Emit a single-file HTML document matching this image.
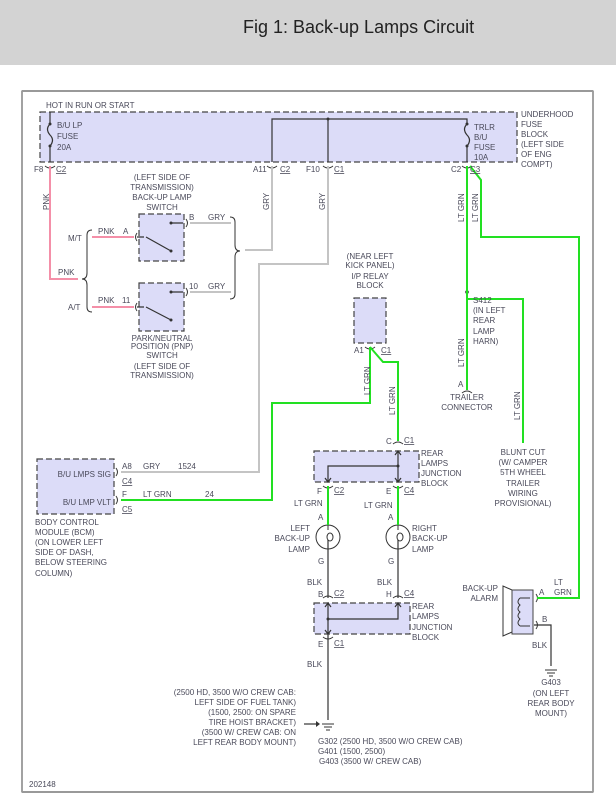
<!DOCTYPE html>
<html><head><meta charset="utf-8"><style>
html,body{margin:0;padding:0;background:#fff;}
body{width:616px;height:804px;overflow:hidden;position:relative;font-family:"Liberation Sans",sans-serif;}
#hdr{position:absolute;left:0;top:0;width:616px;height:65px;background:#d3d3d3;}
#hdr span{position:absolute;left:243px;top:17px;font-size:18px;color:#222;}
svg{position:absolute;left:0;top:0;}
text{font-family:"Liberation Sans",sans-serif;font-size:8px;fill:#4a4a5a;}
.u{text-decoration:underline;}
</style></head><body>
<div id="hdr"><span>Fig 1: Back-up Lamps Circuit</span></div>
<svg width="616" height="804" viewBox="0 0 616 804">
<rect x="22" y="91" width="571" height="701" fill="none" stroke="#444" stroke-width="1"/>
<line x1="22" y1="91" x2="593" y2="91" stroke="#999" stroke-width="2"/>
<line x1="22" y1="792" x2="593" y2="792" stroke="#999" stroke-width="2"/>
<g fill="#dcdcf8" stroke="#444" stroke-dasharray="6,3" stroke-width="1.2">
<rect x="40" y="112" width="477" height="50"/>
<rect x="139" y="214" width="45" height="47"/>
<rect x="139" y="283" width="45" height="48"/>
<rect x="354" y="298" width="32" height="45"/>
<rect x="37" y="459" width="77" height="55"/>
<rect x="314" y="451" width="105" height="31"/>
<rect x="314" y="603" width="96" height="31"/>
</g>
<g stroke="#333" stroke-width="1.2" fill="none">
<path d="M50 112 V124 M50 146 V162 M50 124 q-5 5 0 11 q5 5 0 11"/>
<path d="M272 162 V119 H467 V124 M467 146 V162 M467 124 q-5 5 0 11 q5 5 0 11"/>
<path d="M328 119 V162"/>
<path d="M146 237 L171 251 M144 237 H137 M171 223 H183"/>
<path d="M146 307 L171 320 M144 307 H137 M171 292 H183"/>
<path d="M328 482 V466 H398 M398 451 V482"/>
<path d="M328 603 V648 M328 619 H398 V603"/>
<path d="M328 648 V720"/>
<path d="M398 540 V598 M328 540 V598"/>
<path d="M534 625 H551 V666"/>
<path d="M304 724 H316"/>
<path d="M325 478 L328 482 L331 478 M395 478 L398 482 L401 478 M395 455 L398 451 L401 455 M325 607 L328 603 L331 607 M395 607 L398 603 L401 607 M325 630 L328 634 L331 630"/>
</g>
<g fill="#333">
<circle cx="50" cy="124" r="1.5"/><circle cx="50" cy="146" r="1.5"/>
<circle cx="467" cy="124" r="1.5"/><circle cx="467" cy="146" r="1.5"/>
<circle cx="328" cy="119" r="1.5"/>
<circle cx="171" cy="251" r="1.5"/><circle cx="171" cy="223" r="1.5"/>
<circle cx="171" cy="320" r="1.5"/><circle cx="171" cy="292" r="1.5"/>
<circle cx="398" cy="466" r="1.5"/><circle cx="328" cy="619" r="1.5"/>
<circle cx="467" cy="292" r="1.8"/>
<path d="M316 721 L320 724 L316 727Z"/>
</g>
<g stroke="#333" stroke-width="1" fill="none">
<path d="M45 166 q5 4 10 0 M267 166 q5 4 10 0 M323 166 q5 4 10 0 M462 166 q5 4 10 0"/>
<path d="M137 233 q-3 4 0 8 M137 303 q-3 4 0 8 M186 219 q3 4 0 8 M186 288 q3 4 0 8"/>
<path d="M365 347 q5 4 10 0"/>
<path d="M116 468 q3 4 0 8 M116 496 q3 4 0 8"/>
<path d="M393 444 q5-4 10 0 M323 486 q5 4 10 0 M393 486 q5 4 10 0"/>
<path d="M323 598 q5-4 10 0 M393 598 q5-4 10 0 M323 637 q5 4 10 0"/>
<path d="M462 393 q5-4 10 0"/>
<path d="M536 594 q3 4 0 8 M536 621 q3 4 0 8"/>
<path d="M92 230 q-5 0 -5 5 v38 q0 6 -5 6 q5 0 5 6 v22 q0 5 5 5"/>
<path d="M230 217 q5 0 5 5 v23 q0 6 5 6 q-5 0 -5 6 v37 q0 5 -5 5"/>
<circle cx="328" cy="537" r="12"/><circle cx="398" cy="537" r="12"/>
<path d="M328 525 V530 M328 544 V549 M398 525 V530 M398 544 V549"/>
<ellipse cx="330" cy="537" rx="3" ry="4"/><ellipse cx="400" cy="537" rx="3" ry="4"/>
<path d="M322 724 H334 M324 727 H332 M326 730 H330"/>
<path d="M545 670 H557 M547 673 H555 M549 676 H553"/>
<path d="M512 590 L503 586 V636 L512 632"/>
</g>
<rect x="512" y="590" width="21" height="44" fill="#dcdcf8" stroke="#444" stroke-width="1"/>
<path d="M520 598 H530 M520 626 H530 M520 598 q-4 4 0 7 q-4 4 0 7 q-4 4 0 7 q-4 4 0 7" stroke="#333" fill="none"/>
<g fill="none" stroke-width="2">
<path d="M50 166 V279 H78 M92 237 H134 M92 307 H134" stroke="#f48fa8"/>
<path d="M190 223 H231 M190 292 H231 M245 250 H272 V166 M328 166 V264 H259 V472 H121" stroke="#c4c4c4"/>
<path d="M121 500 H272 V403 H370 V347 M370 347 L383 362 H398 V441 M328 486 V525 M398 486 V525 M467 166 V390 M467 299 H523 V443 M470 166 L481 180 V237 H579 V598 H537" stroke="#22e022"/>
</g>
<text x="46" y="108">HOT IN RUN OR START</text>
<text x="57" y="128">B/U LP</text><text x="57" y="139">FUSE</text><text x="57" y="150">20A</text>
<text x="34" y="172">F8</text><text x="56" y="172" class="u">C2</text>
<text x="253" y="172">A11</text><text x="280" y="172" class="u">C2</text>
<text x="306" y="172">F10</text><text x="334" y="172" class="u">C1</text>
<text x="451" y="172">C2</text><text x="470" y="172" class="u">C3</text>
<text x="474" y="130">TRLR</text><text x="474" y="140">B/U</text><text x="474" y="150">FUSE</text><text x="474" y="160">10A</text>
<text x="521" y="117">UNDERHOOD</text><text x="521" y="127">FUSE</text><text x="521" y="137">BLOCK</text><text x="521" y="147">(LEFT SIDE</text><text x="521" y="157">OF ENG</text><text x="521" y="167">COMPT)</text>
<g text-anchor="middle">
<text x="162" y="180">(LEFT SIDE OF</text><text x="162" y="190">TRANSMISSION)</text><text x="162" y="200">BACK-UP LAMP</text><text x="162" y="210">SWITCH</text>
<text x="162" y="341">PARK/NEUTRAL</text><text x="162" y="349">POSITION (PNP)</text><text x="162" y="358">SWITCH</text><text x="162" y="369">(LEFT SIDE OF</text><text x="162" y="378">TRANSMISSION)</text>
<text x="370" y="259">(NEAR LEFT</text><text x="370" y="268">KICK PANEL)</text><text x="370" y="279">I/P RELAY</text><text x="370" y="288">BLOCK</text>
<text x="467" y="400">TRAILER</text><text x="467" y="410">CONNECTOR</text>
<text x="523" y="455">BLUNT CUT</text><text x="523" y="465">(W/ CAMPER</text><text x="523" y="475">5TH WHEEL</text><text x="523" y="486">TRAILER</text><text x="523" y="496">WIRING</text><text x="523" y="506">PROVISIONAL)</text>
<text x="551" y="685">G403</text><text x="551" y="696">(ON LEFT</text><text x="551" y="706">REAR BODY</text><text x="551" y="716">MOUNT)</text>
</g>
<text x="98" y="234">PNK</text><text x="123" y="234">A</text>
<text x="98" y="303">PNK</text><text x="122" y="303">11</text>
<text x="68" y="241">M/T</text><text x="68" y="310">A/T</text>
<text x="58" y="275">PNK</text>
<text x="189" y="220">B</text><text x="208" y="220">GRY</text>
<text x="189" y="289">10</text><text x="208" y="289">GRY</text>
<text transform="translate(49,210) rotate(-90)">PNK</text>
<text transform="translate(269,210) rotate(-90)">GRY</text>
<text transform="translate(325,210) rotate(-90)">GRY</text>
<text transform="translate(464,222) rotate(-90)">LT GRN</text>
<text transform="translate(478,222) rotate(-90)">LT GRN</text>
<text transform="translate(464,367) rotate(-90)">LT GRN</text>
<text transform="translate(370,395) rotate(-90)">LT GRN</text>
<text transform="translate(395,415) rotate(-90)">LT GRN</text>
<text transform="translate(520,420) rotate(-90)">LT GRN</text>
<text x="473" y="303">S412</text><text x="473" y="313">(IN LEFT</text><text x="473" y="323">REAR</text><text x="473" y="334">LAMP</text><text x="473" y="344">HARN)</text>
<text x="458" y="387">A</text>
<text x="354" y="353">A1</text><text x="381" y="353" class="u">C1</text>
<g text-anchor="end"><text x="111" y="477">B/U LMPS SIG</text><text x="111" y="505">B/U LMP VLT</text>
<text x="310" y="531">LEFT</text><text x="310" y="541">BACK-UP</text><text x="310" y="552">LAMP</text>
<text x="498" y="591">BACK-UP</text><text x="498" y="601">ALARM</text>
<text x="296" y="695">(2500 HD, 3500 W/O CREW CAB:</text><text x="296" y="705">LEFT SIDE OF FUEL TANK)</text><text x="296" y="715">(1500, 2500: ON SPARE</text><text x="296" y="725">TIRE HOIST BRACKET)</text><text x="296" y="735">(3500 W/ CREW CAB: ON</text><text x="296" y="745">LEFT REAR BODY MOUNT)</text>
</g>
<text x="122" y="469">A8</text><text x="122" y="484" class="u">C4</text><text x="143" y="469">GRY</text><text x="178" y="469">1524</text>
<text x="122" y="497">F</text><text x="122" y="512" class="u">C5</text><text x="143" y="497">LT GRN</text><text x="205" y="497">24</text>
<text x="35" y="525">BODY CONTROL</text><text x="35" y="535">MODULE (BCM)</text><text x="35" y="545">(ON LOWER LEFT</text><text x="35" y="555">SIDE OF DASH,</text><text x="35" y="565">BELOW STEERING</text><text x="35" y="576">COLUMN)</text>
<text x="386" y="444">C</text><text x="404" y="443" class="u">C1</text>
<text x="421" y="456">REAR</text><text x="421" y="466">LAMPS</text><text x="421" y="476">JUNCTION</text><text x="421" y="486">BLOCK</text>
<text x="317" y="494">F</text><text x="334" y="493" class="u">C2</text><text x="386" y="494">E</text><text x="404" y="493" class="u">C4</text>
<text x="294" y="506">LT GRN</text><text x="364" y="508">LT GRN</text>
<text x="318" y="520">A</text><text x="388" y="520">A</text>
<text x="412" y="531">RIGHT</text><text x="412" y="541">BACK-UP</text><text x="412" y="552">LAMP</text>
<text x="318" y="564">G</text><text x="388" y="564">G</text>
<text x="307" y="585">BLK</text><text x="377" y="585">BLK</text>
<text x="318" y="597">B</text><text x="334" y="596" class="u">C2</text><text x="386" y="597">H</text><text x="404" y="596" class="u">C4</text>
<text x="412" y="609">REAR</text><text x="412" y="619">LAMPS</text><text x="412" y="630">JUNCTION</text><text x="412" y="640">BLOCK</text>
<text x="318" y="647">E</text><text x="334" y="646" class="u">C1</text>
<text x="307" y="667">BLK</text>
<text x="318" y="744">G302  (2500 HD, 3500 W/O CREW CAB)</text><text x="318" y="754">G401  (1500, 2500)</text><text x="319" y="764">G403  (3500 W/ CREW CAB)</text>
<text x="29" y="787">202148</text>
<text x="554" y="585">LT</text><text x="554" y="595">GRN</text>
<text x="539" y="595">A</text><text x="542" y="622">B</text>
<text x="532" y="648">BLK</text>
</svg>
</body></html>
